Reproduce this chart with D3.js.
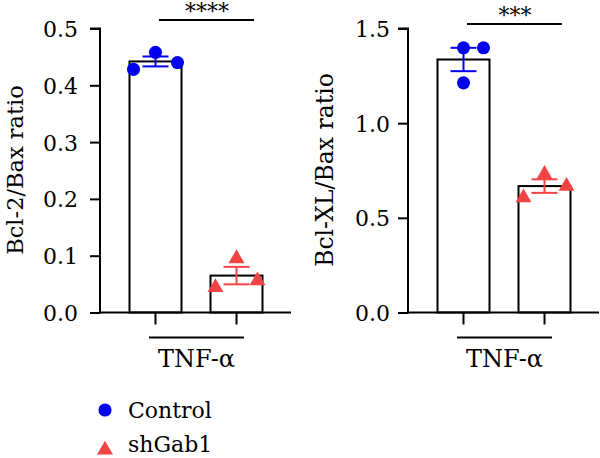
<!DOCTYPE html>
<html>
<head>
<meta charset="utf-8">
<script src="https://cdn.jsdelivr.net/npm/d3@7"></script>
<style>
  body { margin: 0; background: #fff; }
  svg { font-family: 'DejaVu Serif', serif; }
  text { fill: #000; }
</style>
</head>
<body>
<div id="chart"></div>
<script>
const groups = ['Control', 'shGab1']
const colors = ['#0000f0', '#f24444']

// per-replicate ratios
const bcl2Control = [0.428, 0.458, 0.44]
const bcl2Shgab1 = [0.044, 0.095, 0.056]
const bclxlControl = [1.398, 1.398, 1.213]
const bclxlShgab1 = [0.606, 0.73, 0.667]

const bcl2Ticks = [0, 0.1, 0.2, 0.3, 0.4, 0.5]
const bclxlTicks = [0, 0.5, 1.0, 1.5]

// horizontal scatter of the dots inside each bar (px)
const jitterLeft = [[-22, 0, 22], [-21, 0, 21]]
const jitterRight = [[0, 20, 0], [-21, 0, 22]]

const panels = [
  {
    x0: 100, label: 'Bcl-2/Bax ratio', labelX: -77, labelSize: 22.5, data: [bcl2Control, bcl2Shgab1],
    domain: [0, 0.5], ticks: bcl2Ticks, fmt: d3.format('.1f'), stars: '****',
    sigY: 20, jitter: jitterLeft, pad: 12
  },
  {
    x0: 408, label: 'Bcl-XL/Bax ratio', labelX: -75, labelSize: 23.5, data: [bclxlControl, bclxlShgab1],
    domain: [0, 1.5], ticks: bclxlTicks, fmt: d3.format('.1f'), stars: '***',
    sigY: 24, jitter: jitterRight, pad: 8
  },
]

const width = 600
const height = 458
const y0 = 312.5
const yTop = 28.5
const barWidth = 52
const capWidth = 26

const svg = d3.select('#chart')
  .append('svg')
  .attr('width', width)
  .attr('height', height)

const mean = arr => d3.mean(arr)
const sem = arr => d3.deviation(arr) / Math.sqrt(arr.length)

const symCircle = d3.symbol().type(d3.symbolCircle).size(135)
const symTri = d3.symbol().type(d3.symbolTriangle).size(110)

panels.forEach(p => {
  const g = svg.append('g').attr('transform', 'translate(' + p.x0 + ',0)')

  const y = d3.scaleLinear().domain(p.domain).range([y0, yTop])
  const x = d3.scalePoint().domain(groups).range([55.5, 136.5])

  // bars
  g.selectAll('rect.bar')
    .data(p.data)
    .enter()
    .append('rect')
    .attr('class', 'bar')
    .attr('x', (d, i) => x(groups[i]) - barWidth / 2)
    .attr('y', d => y(mean(d)))
    .attr('width', barWidth)
    .attr('height', d => y0 - y(mean(d)))
    .attr('fill', '#fff')
    .attr('stroke', '#000')
    .attr('stroke-width', 2)

  // error bars (mean +/- SEM)
  p.data.forEach((d, i) => {
    const cx = x(groups[i])
    const m = mean(d)
    const e = sem(d)
    const eg = g.append('g')
      .attr('stroke', colors[i])
      .attr('stroke-width', 2)
    eg.append('line')
      .attr('x1', cx).attr('x2', cx)
      .attr('y1', y(m + e)).attr('y2', y(m - e))
    ;[m + e, m - e].forEach(v => {
      eg.append('line')
        .attr('x1', cx - capWidth / 2).attr('x2', cx + capWidth / 2)
        .attr('y1', y(v)).attr('y2', y(v))
    })
  })

  // replicate points
  p.data.forEach((d, i) => {
    g.selectAll('path.pt' + i)
      .data(d)
      .enter()
      .append('path')
      .attr('class', 'pt' + i)
      .attr('d', i === 0 ? symCircle : symTri)
      .attr('fill', colors[i])
      .attr('transform', (v, j) =>
        'translate(' + (x(groups[i]) + p.jitter[i][j]) + ',' + y(v) + ')')
  })

  // y axis
  const yAxis = d3.axisLeft(y)
    .tickValues(p.ticks)
    .tickFormat(p.fmt)
    .tickSize(10)
    .tickPadding(p.pad)
  const ya = g.append('g').call(yAxis)
  ya.select('.domain').attr('stroke-width', 2).attr('d', 'M-10,' + yTop + 'H0V' + (y0 + 1))
  ya.selectAll('.tick line').attr('stroke-width', 2)
  ya.selectAll('.tick text')
    .attr('font-size', 22)
    .attr('font-family', 'DejaVu Serif')
    .attr('fill', '#000')
    .attr('dy', '0.36em')

  // x axis
  g.append('line')
    .attr('x1', -1).attr('x2', 191)
    .attr('y1', y0).attr('y2', y0)
    .attr('stroke', '#000').attr('stroke-width', 2)
  g.selectAll('line.xtick')
    .data(groups)
    .enter()
    .append('line')
    .attr('class', 'xtick')
    .attr('x1', d => x(d)).attr('x2', d => x(d))
    .attr('y1', y0).attr('y2', y0 + 12)
    .attr('stroke', '#000').attr('stroke-width', 2)

  // TNF-α group line and label
  g.append('line')
    .attr('x1', 49).attr('x2', 144)
    .attr('y1', 337.5).attr('y2', 337.5)
    .attr('stroke', '#000').attr('stroke-width', 2)
  g.append('text')
    .attr('x', 96.5).attr('y', 367)
    .attr('text-anchor', 'middle')
    .attr('font-size', 24)
    .text('TNF-α')

  // significance
  g.append('line')
    .attr('x1', 59).attr('x2', 154)
    .attr('y1', p.sigY).attr('y2', p.sigY)
    .attr('stroke', '#000').attr('stroke-width', 2)
  g.append('text')
    .attr('x', 107).attr('y', p.sigY - 1)
    .attr('text-anchor', 'middle')
    .attr('font-size', 22)
    .text(p.stars)

  // y label
  g.append('text')
    .attr('transform', 'translate(' + p.labelX + ',170) rotate(-90)')
    .attr('text-anchor', 'middle')
    .attr('font-size', p.labelSize)
    .text(p.label)
})

// legend
const legend = svg.append('g').attr('transform', 'translate(105,410)')
groups.forEach((name, i) => {
  legend.append('path')
    .attr('d', i === 0 ? symCircle : symTri)
    .attr('fill', colors[i])
    .attr('transform', 'translate(0,' + i * 40 + ')')
  legend.append('text')
    .attr('x', 23)
    .attr('y', i === 0 ? 8 : 42)
    .attr('font-size', 22)
    .text(name)
})
</script>
</body>
</html>
